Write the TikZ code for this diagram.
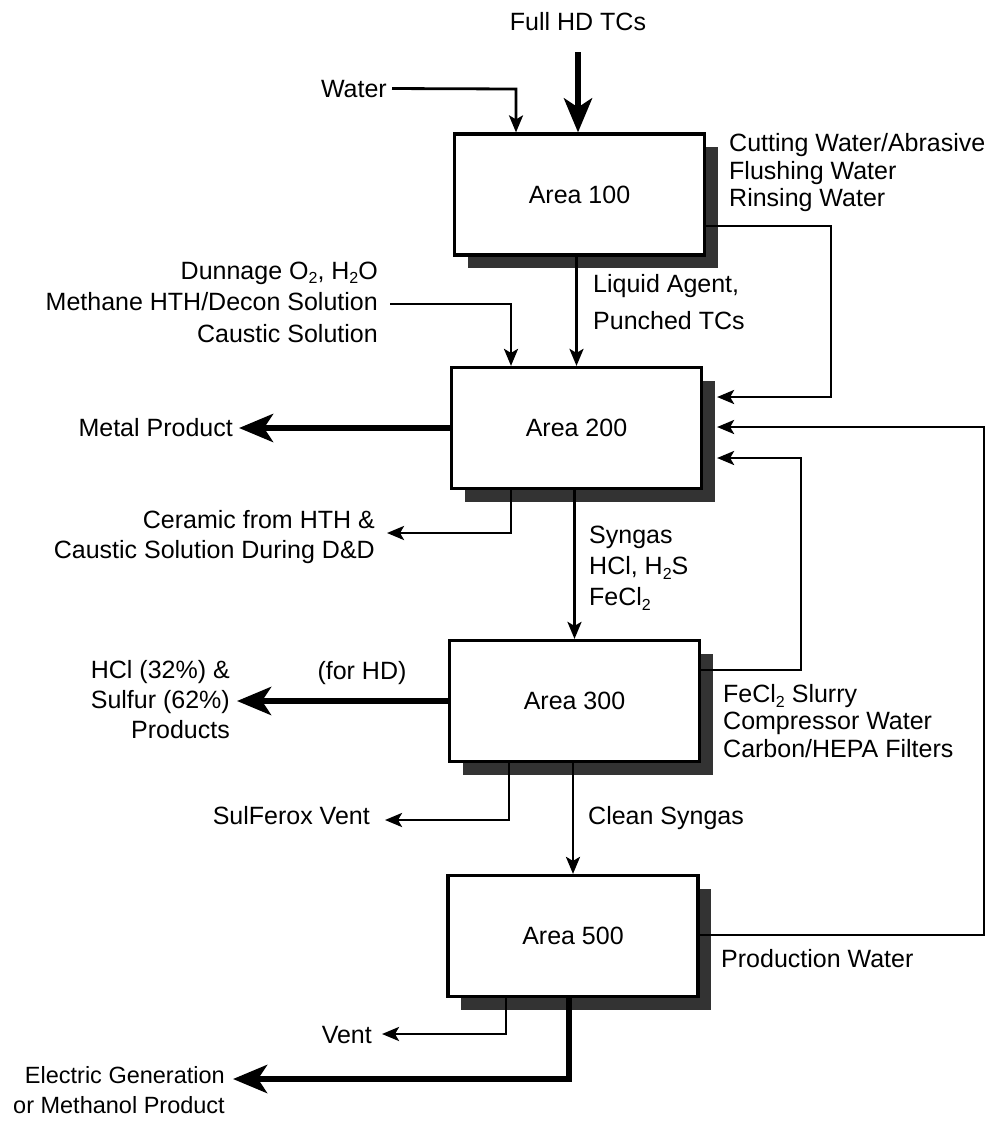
\documentclass[tikz,border=0pt]{standalone}
\usepackage{fontspec}
\setmainfont{Liberation Sans}
\usetikzlibrary{arrows.meta,shadows}
\newcommand\lowidx[1]{\raisebox{-0.35ex}{\fontsize{16}{16}\selectfont #1}}
\begin{document}
\begin{tikzpicture}[x=1pt,y=-1pt,
  lbl/.style={inner sep=0pt, font=\fontsize{25}{29}\selectfont},
  area/.style={draw, line width=3.2pt, fill=white, minimum width=250pt, minimum height=121pt,
    inner sep=0pt, font=\fontsize{25}{29}\selectfont,
    drop shadow={shadow xshift=13pt, shadow yshift=-13pt, fill=black!80, opacity=1}},
  thinarr/.style={line width=2.8pt, -{Stealth[length=17pt,width=14pt,inset=4pt]}},
  heavyarr/.style={line width=6pt, line join=miter, -{Stealth[length=34pt,width=28pt,inset=9pt]}}
]
\useasboundingbox (0,0) rectangle (996,1130);

% boxes
\node[area] (a100) at (579.5,194.5) {Area 100};
\node[area] (a200) at (576.5,428) {Area 200};
\node[area] (a300) at (574.5,701) {Area 300};
\node[area] (a500) at (573,936) {Area 500};

% labels
\node[lbl] (fullhd) at (578,22) {Full HD TCs};
\node[lbl, anchor=base east] (water) at (387,97) {Water};
\node[lbl, anchor=west, align=left, font=\fontsize{25}{27.5}\selectfont] (cut) at (729,173) {Cutting Water/Abrasive\\Flushing Water\\Rinsing Water};
\node[lbl, anchor=west, align=left, font=\fontsize{25}{37}\selectfont] (liq) at (593,302) {Liquid Agent,\\Punched TCs};
\node[lbl, anchor=east, align=right, font=\fontsize{25}{31.5}\selectfont] (dun) at (378,302) {Dunnage O\lowidx{2}, H\lowidx{2}O\\Methane HTH/Decon Solution\\Caustic Solution};
\node[lbl, anchor=base east] (metal) at (233,436) {Metal Product};
\node[lbl, anchor=east, align=right, font=\fontsize{25}{30}\selectfont] (cer) at (375,537) {Ceramic from HTH \&\\Caustic Solution During D\&D};
\node[lbl, anchor=west, align=left, font=\fontsize{25}{31}\selectfont] (syn) at (589,568) {Syngas\\HCl, H\lowidx{2}S\\FeCl\lowidx{2}};
\node[lbl, anchor=east, align=right, font=\fontsize{25}{30}\selectfont] (hcl) at (230,700) {HCl (32\%) \&\\Sulfur (62\%)\\Products};
\node[lbl] (forhd) at (362,673) {(for HD)};
\node[lbl, anchor=west, align=left, font=\fontsize{25}{27.5}\selectfont] (fec) at (723,721) {FeCl\lowidx{2} Slurry\\Compressor Water\\Carbon/HEPA Filters};
\node[lbl, anchor=base east] (sulf) at (370,824) {SulFerox Vent};
\node[lbl, anchor=base west] (clean) at (588,824) {Clean Syngas};
\node[lbl, anchor=base west] (prodw) at (721,967) {Production Water};
\node[lbl, anchor=base east] (vent) at (372,1043) {Vent};
\node[lbl, anchor=east, align=right, font=\fontsize{23.5}{30}\selectfont] (elec) at (225,1090) {Electric Generation\\or Methanol Product};

% bend points
\coordinate (wb) at (516,89);
\coordinate (b1) at (831,226);
\coordinate (b1d) at (831,397);
\coordinate (dn) at (511,304);
\coordinate (cr) at (511,533);
\coordinate (r3) at (801,670);
\coordinate (r3u) at (801,458);
\coordinate (pw) at (984,935);
\coordinate (pwu) at (984,427);
\coordinate (sv) at (509,820);
\coordinate (vt) at (506,1034);
\coordinate (el) at (569,1079);

% connectors
\draw[heavyarr, shorten <=21pt] (fullhd.south) -- (fullhd.south |- a100.north);
\draw[thinarr] ([xshift=5pt]water.east) -- (wb) -- (wb |- a100.north);
\draw[thinarr] (a100.east |- b1) -- (b1) -- (b1d) -- ([xshift=14pt]a200.east |- b1d);
\draw[thinarr] (a200.north |- a100.south) -- (a200.north);
\draw[thinarr] ([xshift=12pt]dun.east |- dn) -- (dn) -- (dn |- a200.north);
\draw[heavyarr] (a200.west) -- ([xshift=6pt]metal.east |- a200.west);
\draw[thinarr] (cr |- a200.south) -- (cr) -- ([xshift=12pt]cer.east |- cr);
\draw[thinarr] (a300.north |- a200.south) -- (a300.north);
\draw[thinarr] (a300.east |- r3) -- (r3) -- (r3u) -- ([xshift=14pt]a200.east |- r3u);
\draw[thinarr] (a500.east |- pw) -- (pw) -- (pwu) -- ([xshift=14pt]a200.east |- pwu);
\draw[heavyarr] (a300.west) -- ([xshift=7pt]hcl.east |- a300.west);
\draw[thinarr] (sv |- a300.south) -- (sv) -- ([xshift=15pt]sulf.east |- sv);
\draw[thinarr] (a500.north |- a300.south) -- (a500.north);
\draw[thinarr] (vt |- a500.south) -- (vt) -- ([xshift=10pt]vent.east |- vt);
\draw[heavyarr] (el |- a500.south) -- (el) -- ([xshift=8pt]elec.east |- el);
\end{tikzpicture}
\end{document}
